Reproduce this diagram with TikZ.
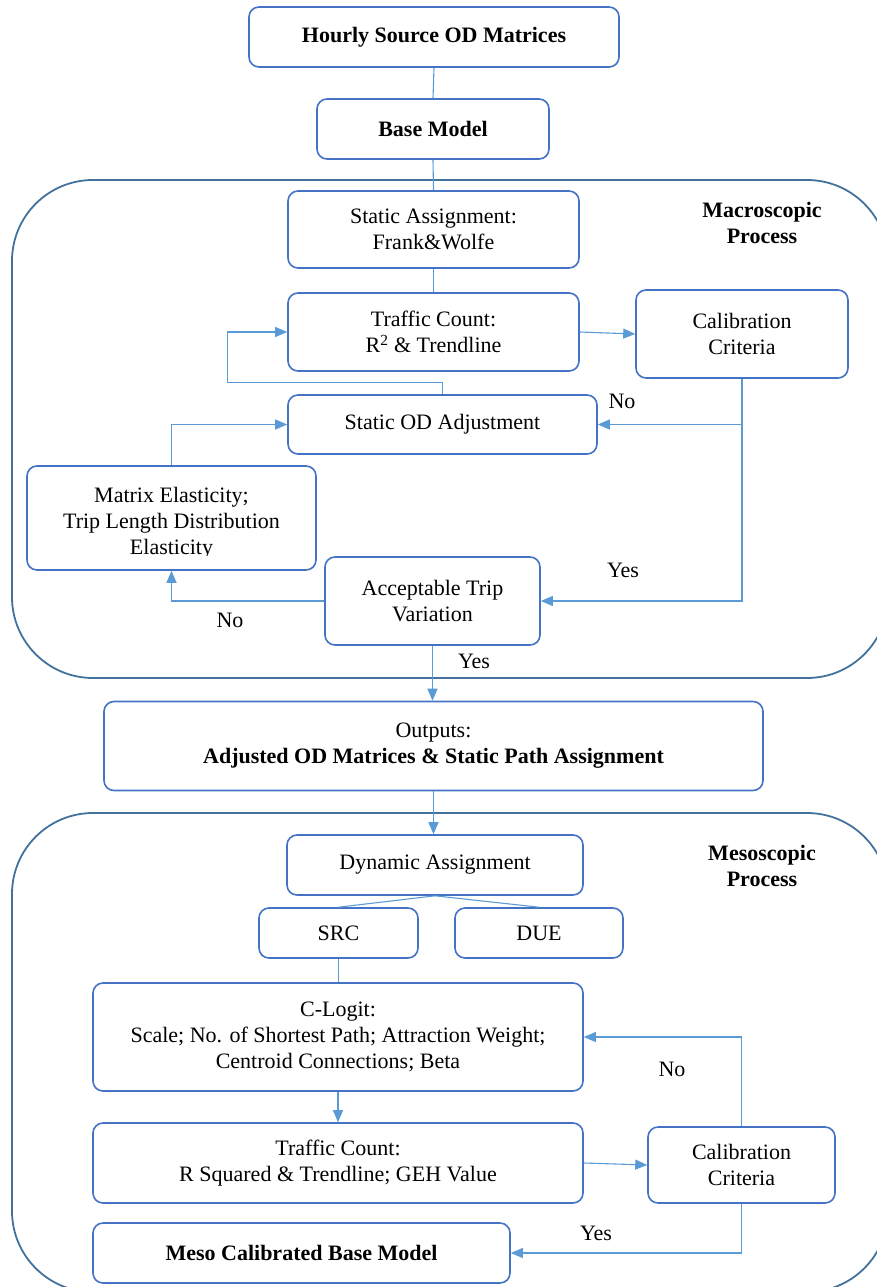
\documentclass[tikz,border=0pt]{standalone}
\usepackage{fontspec}
\setmainfont{Liberation Serif}
\usetikzlibrary{arrows.meta}
\definecolor{boxblue}{HTML}{4472C4}
\definecolor{frameblue}{HTML}{41719C}
\definecolor{linkblue}{HTML}{5B9BD5}

\begin{document}
\begin{tikzpicture}[x=1pt,y=-1pt,
  box/.style={draw=boxblue, line width=1.6pt, rounded corners=10pt, fill=white,
              inner sep=0pt, align=center, font=\fontsize{22}{26}\selectfont},
  sz/.style 2 args={minimum width=#1pt, minimum height=#2pt},
  frame/.style={draw=frameblue, line width=1.8pt, rounded corners=81pt},
  link/.style={draw=linkblue, line width=1.1pt},
  arr/.style={link, -{Triangle[length=12pt,width=10pt]}},
  lbl/.style={font=\fontsize{22}{26}\selectfont, inner sep=0pt, align=center},
  title/.style={font=\fontsize{22}{26}\selectfont\bfseries, align=center, inner sep=0pt}]

\useasboundingbox (0,0) rectangle (877,1287);
\clip (0,0) rectangle (877,1287);

% process frames
\draw[frame] (12,180) rectangle (888,678);
\draw[frame] (12,813) rectangle (888,1292);
\node[title] (macrot) at (762,223) {Macroscopic\\Process};
\node[title] (mesot) at (762,866) {Mesoscopic\\Process};

% boxes
\node[box, sz={370}{60}] (hourly) at (434,37) {\bfseries Hourly Source OD Matrices};
\node[box, sz={232}{60}] (base) at (433,129) {\bfseries Base Model};
\node[box, sz={291}{77}] (static) at (433.5,229.5) {Static Assignment:\\Frank\&Wolfe};
\node[box, sz={291}{78}] (tc1) at (433.5,332) {Traffic Count:\\R\textsuperscript{2} \& Trendline};
\node[box, sz={212}{88}] (cal1) at (742,334) {Calibration\\Criteria};
\node[box, sz={309}{59}] (odadj) at (442.5,424.5) {Static OD Adjustment};
\node[box, sz={289}{104}] (mx) at (171.5,518) {};
\begin{scope}
  \clip (27,460) rectangle (316,555);
  \node[lbl] (mxtext) at (171.5,523) {Matrix Elasticity;\\Trip Length Distribution\\Elasticity};
\end{scope}
\node[box, sz={215}{88}] (accept) at (432.5,601) {Acceptable Trip\\Variation};
\node[box, sz={659}{89}] (outputs) at (433.5,746) {Outputs:\\\bfseries Adjusted OD Matrices \& Static Path Assignment};

\node[box, sz={296}{60}] (dyn) at (435,865) {Dynamic Assignment};
\node[box, sz={159}{50}] (src) at (338.5,933) {SRC};
\node[box, sz={168}{50}] (due) at (539,933) {DUE};
\node[box, sz={490}{108}] (clogit) at (338,1037) {C-Logit:\\Scale; No. of Shortest Path; Attraction Weight;\\Centroid Connections; Beta};
\node[box, sz={490}{80}] (tc2) at (338,1163) {Traffic Count:\\R Squared \& Trendline; GEH Value};
\node[box, sz={187}{76}] (cal2) at (741.5,1165) {Calibration\\Criteria};
\node[box, sz={417}{60}] (mesobase) at (301.5,1253) {\bfseries Meso Calibrated Base Model};

% connectors: macroscopic stage
\draw[link] (hourly.south) -- (base.north);
\draw[link] (base.south) -- (static.north);
\draw[link] (static.south) -- (tc1.north);
\draw[arr] (tc1.east) -- (cal1.west);
\draw[arr] (cal1.south) |- (odadj.east);
\draw[arr] (cal1.south) |- (accept.east);
\draw[arr] (odadj.north) -- ++(0,-12) -| ([xshift=-60pt]tc1.west) -- (tc1.west);
\draw[arr] (mx.north) |- (odadj.west);
\draw[arr] (accept.west) -| (mx.south);
\draw[arr] (accept.south) -- (accept.south |- outputs.north);
\draw[arr] (outputs.south) -- (outputs.south |- dyn.north);

% connectors: mesoscopic stage
\draw[link] (dyn.south) -- (src.north);
\draw[link] (dyn.south) -- (due.north);
\draw[link] (src.south) -- (src.south |- clogit.north);
\draw[arr] (clogit.south) -- (tc2.north);
\draw[arr] (tc2.east) -- (cal2.west);
\draw[arr] (cal2.north) |- (clogit.east);
\draw[arr] (cal2.south) |- (mesobase.east);

% decision labels
\node[lbl] (no1) at (622,401) {No};
\node[lbl] (yes1) at (623,570) {Yes};
\node[lbl] (no2) at (230,620) {No};
\node[lbl] (yes2) at (474,661) {Yes};
\node[lbl] (no3) at (672,1069) {No};
\node[lbl] (yes3) at (596,1233) {Yes};
\end{tikzpicture}
\end{document}
